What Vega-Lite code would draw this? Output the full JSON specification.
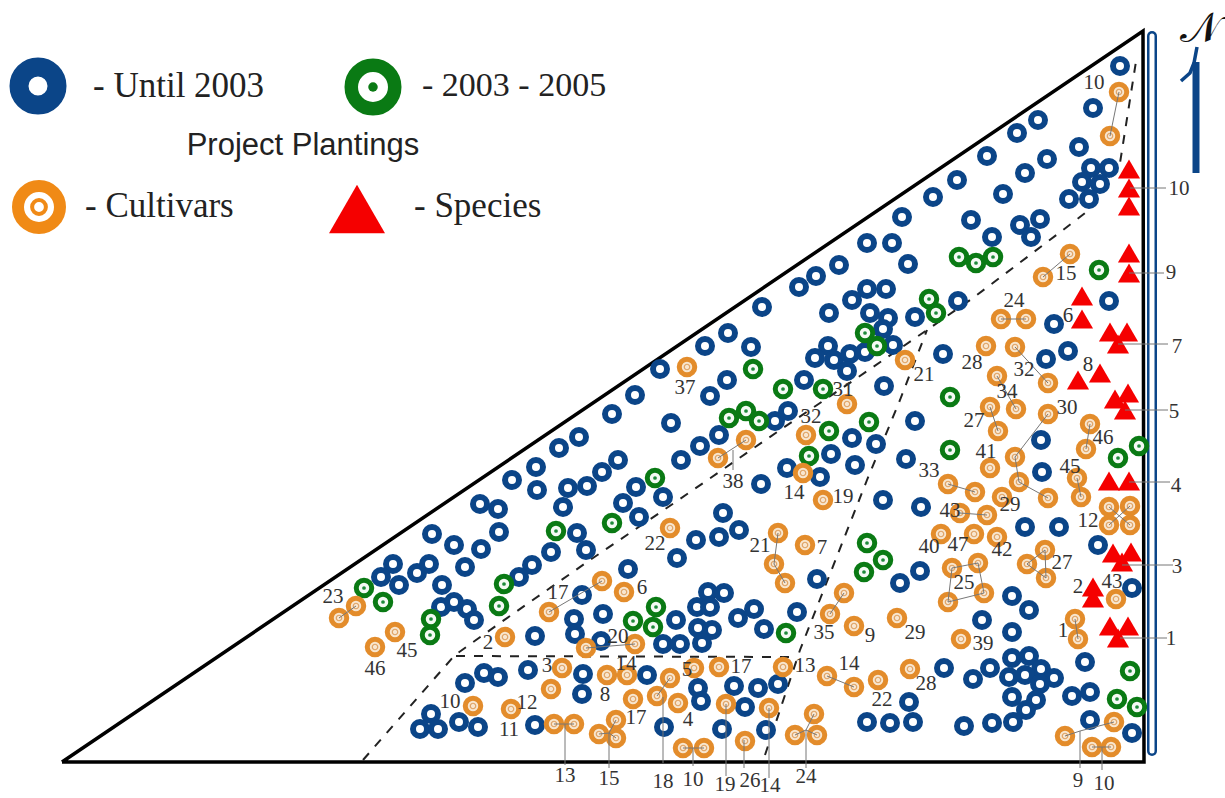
{"$schema":"https://vega.github.io/schema/vega-lite/v6.json","width":1225,"height":798,"autosize":"none","padding":0,"background":"white","view":{"stroke":null},
"datasets":{
"blue":[{"x":1120,"y":66},{"x":1093,"y":108},{"x":1038,"y":120},{"x":1017,"y":133},{"x":1079,"y":147},{"x":987,"y":156},{"x":1047,"y":159},{"x":1025,"y":173},{"x":1003,"y":194},{"x":1091,"y":168},{"x":1109,"y":168},{"x":1082,"y":182},{"x":1100,"y":184},{"x":1089,"y":199},{"x":1069,"y":199},{"x":1040,"y":219},{"x":1020,"y":225},{"x":1031,"y":237},{"x":971,"y":220},{"x":992,"y":237},{"x":957,"y":180},{"x":933,"y":197},{"x":902,"y":217},{"x":867,"y":243},{"x":892,"y":243},{"x":908,"y":264},{"x":839,"y":265},{"x":816,"y":276},{"x":799,"y":287},{"x":762,"y":307},{"x":867,"y":289},{"x":886,"y":289},{"x":852,"y":300},{"x":829,"y":313},{"x":870,"y":313},{"x":888,"y":318},{"x":883,"y":329},{"x":915,"y":317},{"x":958,"y":301},{"x":828,"y":346},{"x":815,"y":358},{"x":834,"y":360},{"x":850,"y":354},{"x":865,"y":352},{"x":893,"y":345},{"x":847,"y":371},{"x":804,"y":380},{"x":884,"y":386},{"x":943,"y":354},{"x":915,"y":421},{"x":852,"y":438},{"x":876,"y":444},{"x":831,"y":454},{"x":855,"y":465},{"x":906,"y":459},{"x":820,"y":477},{"x":1041,"y":440},{"x":1042,"y":472},{"x":1054,"y":324},{"x":1046,"y":359},{"x":1068,"y":351},{"x":1109,"y":301},{"x":728,"y":333},{"x":705,"y":346},{"x":751,"y":347},{"x":660,"y":369},{"x":727,"y":380},{"x":710,"y":396},{"x":635,"y":395},{"x":612,"y":414},{"x":671,"y":423},{"x":579,"y":437},{"x":559,"y":448},{"x":536,"y":467},{"x":512,"y":480},{"x":537,"y":490},{"x":618,"y":460},{"x":602,"y":472},{"x":587,"y":486},{"x":568,"y":488},{"x":636,"y":487},{"x":663,"y":497},{"x":623,"y":503},{"x":681,"y":460},{"x":700,"y":446},{"x":719,"y":435},{"x":775,"y":421},{"x":788,"y":411},{"x":787,"y":468},{"x":761,"y":484},{"x":639,"y":517},{"x":563,"y":507},{"x":480,"y":504},{"x":498,"y":509},{"x":499,"y":532},{"x":577,"y":533},{"x":586,"y":550},{"x":551,"y":552},{"x":532,"y":565},{"x":519,"y":577},{"x":432,"y":534},{"x":454,"y":545},{"x":481,"y":549},{"x":465,"y":567},{"x":393,"y":564},{"x":381,"y":577},{"x":399,"y":585},{"x":417,"y":573},{"x":429,"y":564},{"x":442,"y":585},{"x":441,"y":607},{"x":454,"y":602},{"x":467,"y":609},{"x":474,"y":620},{"x":723,"y":513},{"x":739,"y":530},{"x":719,"y":537},{"x":696,"y":540},{"x":677,"y":558},{"x":628,"y":569},{"x":582,"y":595},{"x":574,"y":619},{"x":575,"y":634},{"x":603,"y":614},{"x":535,"y":636},{"x":601,"y":641},{"x":676,"y":620},{"x":663,"y":644},{"x":680,"y":644},{"x":708,"y":592},{"x":724,"y":593},{"x":697,"y":607},{"x":710,"y":607},{"x":738,"y":618},{"x":754,"y":609},{"x":698,"y":628},{"x":712,"y":630},{"x":702,"y":643},{"x":528,"y":670},{"x":465,"y":683},{"x":484,"y":673},{"x":498,"y":677},{"x":583,"y":674},{"x":582,"y":694},{"x":647,"y":675},{"x":698,"y":688},{"x":701,"y":701},{"x":734,"y":686},{"x":745,"y":707},{"x":431,"y":714},{"x":420,"y":729},{"x":438,"y":729},{"x":459,"y":722},{"x":478,"y":727},{"x":535,"y":725},{"x":664,"y":727},{"x":722,"y":729},{"x":883,"y":500},{"x":921,"y":507},{"x":817,"y":579},{"x":900,"y":583},{"x":920,"y":571},{"x":797,"y":612},{"x":764,"y":629},{"x":1025,"y":527},{"x":1059,"y":527},{"x":1098,"y":545},{"x":1132,"y":588},{"x":1012,"y":596},{"x":1029,"y":610},{"x":982,"y":620},{"x":1012,"y":632},{"x":1085,"y":662},{"x":944,"y":668},{"x":973,"y":679},{"x":990,"y":668},{"x":1012,"y":658},{"x":1029,"y":656},{"x":1041,"y":669},{"x":1009,"y":677},{"x":1025,"y":675},{"x":1054,"y":678},{"x":1040,"y":684},{"x":1012,"y":697},{"x":1036,"y":700},{"x":1026,"y":710},{"x":1072,"y":696},{"x":1090,"y":692},{"x":909,"y":702},{"x":867,"y":722},{"x":890,"y":723},{"x":913,"y":722},{"x":964,"y":726},{"x":992,"y":723},{"x":1013,"y":722},{"x":1090,"y":720},{"x":1132,"y":733},{"x":758,"y":688},{"x":778,"y":684},{"x":766,"y":730}],
"green":[{"x":959,"y":257},{"x":976,"y":263},{"x":993,"y":257},{"x":929,"y":299},{"x":936,"y":313},{"x":865,"y":333},{"x":877,"y":346},{"x":823,"y":389},{"x":869,"y":422},{"x":829,"y":431},{"x":809,"y":456},{"x":950,"y":397},{"x":950,"y":450},{"x":1099,"y":270},{"x":1118,"y":458},{"x":1139,"y":446},{"x":753,"y":369},{"x":783,"y":389},{"x":729,"y":418},{"x":746,"y":411},{"x":759,"y":421},{"x":655,"y":478},{"x":612,"y":523},{"x":556,"y":531},{"x":504,"y":584},{"x":499,"y":606},{"x":364,"y":588},{"x":383,"y":602},{"x":431,"y":619},{"x":430,"y":635},{"x":656,"y":607},{"x":633,"y":621},{"x":653,"y":627},{"x":867,"y":543},{"x":883,"y":560},{"x":864,"y":572},{"x":786,"y":633},{"x":1130,"y":671},{"x":1117,"y":699},{"x":1137,"y":707}],
"orange":[{"x":1119,"y":92},{"x":1110,"y":136},{"x":1070,"y":254},{"x":1043,"y":277},{"x":1001,"y":319},{"x":1026,"y":319},{"x":986,"y":346},{"x":1015,"y":347},{"x":1048,"y":383},{"x":997,"y":376},{"x":990,"y":407},{"x":1016,"y":409},{"x":998,"y":431},{"x":1048,"y":414},{"x":1090,"y":424},{"x":1086,"y":449},{"x":1015,"y":457},{"x":990,"y":468},{"x":1019,"y":482},{"x":1077,"y":478},{"x":1081,"y":497},{"x":948,"y":484},{"x":975,"y":492},{"x":1002,"y":497},{"x":1048,"y":498},{"x":905,"y":360},{"x":847,"y":404},{"x":806,"y":435},{"x":803,"y":473},{"x":687,"y":367},{"x":746,"y":440},{"x":718,"y":458},{"x":823,"y":500},{"x":960,"y":513},{"x":987,"y":515},{"x":941,"y":534},{"x":974,"y":534},{"x":997,"y":537},{"x":1109,"y":507},{"x":1130,"y":506},{"x":1109,"y":525},{"x":1130,"y":525},{"x":778,"y":533},{"x":805,"y":545},{"x":774,"y":564},{"x":785,"y":583},{"x":952,"y":568},{"x":978,"y":563},{"x":948,"y":602},{"x":984,"y":593},{"x":1045,"y":550},{"x":1027,"y":564},{"x":1046,"y":578},{"x":844,"y":593},{"x":830,"y":614},{"x":854,"y":626},{"x":897,"y":618},{"x":961,"y":639},{"x":1116,"y":599},{"x":1075,"y":619},{"x":1078,"y":639},{"x":783,"y":667},{"x":827,"y":676},{"x":854,"y":687},{"x":878,"y":680},{"x":910,"y":669},{"x":769,"y":708},{"x":814,"y":714},{"x":795,"y":735},{"x":817,"y":735},{"x":745,"y":741},{"x":1065,"y":736},{"x":1114,"y":722},{"x":1092,"y":747},{"x":1111,"y":747},{"x":670,"y":528},{"x":602,"y":581},{"x":624,"y":592},{"x":549,"y":612},{"x":505,"y":637},{"x":586,"y":648},{"x":635,"y":644},{"x":356,"y":606},{"x":339,"y":618},{"x":395,"y":632},{"x":375,"y":647},{"x":562,"y":668},{"x":551,"y":689},{"x":607,"y":675},{"x":627,"y":675},{"x":670,"y":678},{"x":694,"y":668},{"x":719,"y":667},{"x":657,"y":696},{"x":678,"y":703},{"x":633,"y":699},{"x":726,"y":704},{"x":473,"y":706},{"x":511,"y":709},{"x":554,"y":724},{"x":574,"y":724},{"x":616,"y":720},{"x":599,"y":734},{"x":616,"y":738},{"x":683,"y":748},{"x":704,"y":748}],
"red":[{"x":1129,"y":169},{"x":1129,"y":188},{"x":1129,"y":206},{"x":1129,"y":253},{"x":1129,"y":273},{"x":1082,"y":296},{"x":1082,"y":319},{"x":1110,"y":332},{"x":1127,"y":332},{"x":1118,"y":344},{"x":1078,"y":380},{"x":1100,"y":373},{"x":1115,"y":399},{"x":1128,"y":393},{"x":1125,"y":410},{"x":1109,"y":481},{"x":1129,"y":481},{"x":1113,"y":553},{"x":1131,"y":552},{"x":1122,"y":562},{"x":1093,"y":587},{"x":1093,"y":598},{"x":1110,"y":626},{"x":1128,"y":626},{"x":1118,"y":638}],
"links":[{"x":1119,"y":92,"x2":1110,"y2":136},{"x":1130,"y":188,"x2":1166,"y2":188},{"x":1129,"y":273,"x2":1164,"y2":273},{"x":1118,"y":344,"x2":1168,"y2":344},{"x":1125,"y":410,"x2":1168,"y2":410},{"x":1129,"y":482,"x2":1170,"y2":482},{"x":1122,"y":565,"x2":1173,"y2":565},{"x":1120,"y":638,"x2":1167,"y2":638},{"x":1070,"y":254,"x2":1043,"y2":277},{"x":1001,"y":319,"x2":1026,"y2":319},{"x":1015,"y":347,"x2":1048,"y2":383},{"x":997,"y":376,"x2":1016,"y2":409},{"x":990,"y":407,"x2":998,"y2":431},{"x":1048,"y":414,"x2":1015,"y2":457},{"x":1015,"y":457,"x2":1019,"y2":482},{"x":1019,"y":482,"x2":1048,"y2":498},{"x":948,"y":484,"x2":975,"y2":492},{"x":1090,"y":424,"x2":1086,"y2":449},{"x":1077,"y":478,"x2":1081,"y2":497},{"x":960,"y":513,"x2":987,"y2":515},{"x":1109,"y":507,"x2":1130,"y2":525},{"x":1130,"y":506,"x2":1109,"y2":525},{"x":778,"y":533,"x2":774,"y2":564},{"x":774,"y":564,"x2":785,"y2":583},{"x":952,"y":568,"x2":978,"y2":563},{"x":978,"y":563,"x2":984,"y2":593},{"x":984,"y":593,"x2":948,"y2":602},{"x":948,"y":602,"x2":952,"y2":568},{"x":1045,"y":550,"x2":1027,"y2":564},{"x":1027,"y":564,"x2":1046,"y2":578},{"x":1045,"y":550,"x2":1046,"y2":578},{"x":844,"y":593,"x2":830,"y2":614},{"x":1075,"y":619,"x2":1078,"y2":639},{"x":827,"y":676,"x2":854,"y2":687},{"x":602,"y":581,"x2":549,"y2":612},{"x":586,"y":648,"x2":635,"y2":644},{"x":339,"y":618,"x2":356,"y2":606},{"x":670,"y":678,"x2":657,"y2":696},{"x":663,"y":697,"x2":663,"y2":763},{"x":554,"y":724,"x2":574,"y2":724},{"x":565,"y":724,"x2":565,"y2":765},{"x":599,"y":734,"x2":609,"y2":733},{"x":616,"y":720,"x2":609,"y2":733},{"x":616,"y":738,"x2":609,"y2":733},{"x":609,"y":733,"x2":609,"y2":768},{"x":683,"y":748,"x2":704,"y2":748},{"x":693,"y":748,"x2":693,"y2":766},{"x":726,"y":704,"x2":726,"y2":776},{"x":744,"y":740,"x2":744,"y2":768},{"x":769,"y":708,"x2":769,"y2":778},{"x":814,"y":714,"x2":806,"y2":730},{"x":795,"y":735,"x2":806,"y2":730},{"x":817,"y":735,"x2":806,"y2":730},{"x":806,"y":730,"x2":806,"y2":768},{"x":1065,"y":736,"x2":1080,"y2":731},{"x":1080,"y":731,"x2":1114,"y2":722},{"x":1080,"y":731,"x2":1080,"y2":768},{"x":1092,"y":747,"x2":1111,"y2":747},{"x":1102,"y":747,"x2":1102,"y2":770},{"x":718,"y":458,"x2":746,"y2":440},{"x":733,"y":450,"x2":733,"y2":470}],
"dash":[{"g":"a","i":1,"x":363,"y":760},{"g":"a","i":2,"x":455,"y":655},{"g":"a","i":3,"x":500,"y":623},{"g":"a","i":4,"x":590,"y":560},{"g":"a","i":5,"x":680,"y":499},{"g":"a","i":6,"x":780,"y":430},{"g":"a","i":7,"x":857,"y":378},{"g":"a","i":8,"x":927,"y":330},{"g":"a","i":9,"x":973,"y":298},{"g":"a","i":10,"x":1063,"y":230},{"g":"a","i":11,"x":1089,"y":210},{"g":"a","i":12,"x":1120,"y":163},{"g":"a","i":13,"x":1137,"y":55},{"g":"b","i":1,"x":456,"y":656},{"g":"b","i":2,"x":790,"y":657},{"g":"c","i":1,"x":765,"y":755},{"g":"c","i":2,"x":800,"y":650},{"g":"c","i":3,"x":867,"y":480},{"g":"c","i":4,"x":900,"y":400},{"g":"c","i":5,"x":927,"y":330}],
"labels":[{"x":1094,"y":83,"t":"10"},{"x":1179,"y":189,"t":"10"},{"x":1171,"y":273,"t":"9"},{"x":1177,"y":347,"t":"7"},{"x":1174,"y":412,"t":"5"},{"x":1176,"y":486,"t":"4"},{"x":1177,"y":567,"t":"3"},{"x":1171,"y":639,"t":"1"},{"x":1066,"y":274,"t":"15"},{"x":1014,"y":301,"t":"24"},{"x":1068,"y":316,"t":"6"},{"x":972,"y":363,"t":"28"},{"x":1024,"y":370,"t":"32"},{"x":1088,"y":365,"t":"8"},{"x":1007,"y":392,"t":"34"},{"x":974,"y":421,"t":"27"},{"x":1067,"y":408,"t":"30"},{"x":1103,"y":438,"t":"46"},{"x":986,"y":452,"t":"41"},{"x":1070,"y":467,"t":"45"},{"x":929,"y":471,"t":"33"},{"x":1010,"y":505,"t":"29"},{"x":950,"y":511,"t":"43"},{"x":1088,"y":521,"t":"12"},{"x":929,"y":547,"t":"40"},{"x":958,"y":545,"t":"47"},{"x":1002,"y":550,"t":"42"},{"x":1062,"y":563,"t":"27"},{"x":964,"y":583,"t":"25"},{"x":1112,"y":582,"t":"43"},{"x":1078,"y":587,"t":"2"},{"x":1063,"y":631,"t":"1"},{"x":983,"y":644,"t":"39"},{"x":915,"y":633,"t":"29"},{"x":870,"y":636,"t":"9"},{"x":824,"y":633,"t":"35"},{"x":760,"y":546,"t":"21"},{"x":822,"y":548,"t":"7"},{"x":655,"y":544,"t":"22"},{"x":794,"y":493,"t":"14"},{"x":843,"y":497,"t":"19"},{"x":733,"y":482,"t":"38"},{"x":843,"y":390,"t":"31"},{"x":811,"y":417,"t":"32"},{"x":924,"y":375,"t":"21"},{"x":685,"y":388,"t":"37"},{"x":558,"y":593,"t":"17"},{"x":642,"y":588,"t":"6"},{"x":488,"y":643,"t":"2"},{"x":618,"y":637,"t":"20"},{"x":626,"y":664,"t":"14"},{"x":547,"y":666,"t":"3"},{"x":687,"y":670,"t":"5"},{"x":741,"y":667,"t":"17"},{"x":805,"y":666,"t":"13"},{"x":849,"y":664,"t":"14"},{"x":926,"y":684,"t":"28"},{"x":882,"y":700,"t":"22"},{"x":605,"y":695,"t":"8"},{"x":527,"y":703,"t":"12"},{"x":450,"y":702,"t":"10"},{"x":509,"y":730,"t":"11"},{"x":636,"y":718,"t":"17"},{"x":688,"y":720,"t":"4"},{"x":407,"y":651,"t":"45"},{"x":375,"y":669,"t":"46"},{"x":333,"y":597,"t":"23"},{"x":565,"y":776,"t":"13"},{"x":609,"y":779,"t":"15"},{"x":663,"y":782,"t":"18"},{"x":693,"y":780,"t":"10"},{"x":725,"y":785,"t":"19"},{"x":750,"y":781,"t":"26"},{"x":770,"y":786,"t":"14"},{"x":806,"y":777,"t":"24"},{"x":1078,"y":781,"t":"9"},{"x":1104,"y":784,"t":"10"}]
},
"encoding":{"x":{"field":"x","type":"quantitative","scale":{"domain":[0,1225],"nice":false,"zero":false},"axis":null},"y":{"field":"y","type":"quantitative","scale":{"domain":[798,0],"nice":false,"zero":false},"axis":null}},
"layer":[
{"data":{"values":[{"x":1152,"y":36,"x2":1152,"y2":751}]},"mark":{"type":"rule","stroke":"#0b4588","strokeWidth":10,"strokeCap":"round"},"encoding":{"x2":{"field":"x2"},"y2":{"field":"y2"}}},
{"data":{"values":[{"x":1152,"y":36,"x2":1152,"y2":751}]},"mark":{"type":"rule","stroke":"white","strokeWidth":5,"strokeCap":"round"},"encoding":{"x2":{"field":"x2"},"y2":{"field":"y2"}}},
{"data":{"values":[{"i":1,"x":62,"y":762},{"i":2,"x":1143,"y":31},{"i":3,"x":1144,"y":762},{"i":4,"x":62,"y":762}]},"mark":{"type":"line","stroke":"black","strokeWidth":3.5,"strokeJoin":"miter","interpolate":"linear"},"encoding":{"order":{"field":"i"}}},
{"data":{"name":"dash"},"mark":{"type":"line","stroke":"#222","strokeWidth":2,"strokeDash":[9,9]},"encoding":{"order":{"field":"i"},"detail":{"field":"g"}}},
{"data":{"name":"blue"},"mark":{"type":"point","shape":"circle","filled":true,"fill":"white","stroke":"#0b4588","strokeWidth":6,"size":196,"opacity":1}},
{"data":{"name":"green"},"mark":{"type":"point","shape":"circle","filled":true,"fill":"#f4faf4","stroke":"#0a7a14","strokeWidth":5,"size":240,"opacity":1}},
{"data":{"name":"green"},"mark":{"type":"point","shape":"circle","filled":true,"fill":"#1d8a3a","size":14,"opacity":1,"strokeWidth":0}},
{"data":{"name":"orange"},"mark":{"type":"point","shape":"circle","filled":true,"fill":"#f8e6cf","stroke":"#e38c2b","strokeWidth":5,"size":240,"opacity":1}},
{"data":{"name":"orange"},"mark":{"type":"point","shape":"circle","filled":false,"stroke":"#dfa366","strokeWidth":1.2,"size":30,"opacity":1}},
{"data":{"name":"red"},"mark":{"type":"point","shape":"triangle-up","filled":true,"fill":"#f50000","size":490,"opacity":1,"strokeWidth":0}},
{"data":{"name":"links"},"mark":{"type":"rule","stroke":"#777","strokeWidth":1},"encoding":{"x2":{"field":"x2"},"y2":{"field":"y2"}}},
{"data":{"name":"labels"},"mark":{"type":"text","font":"Liberation Serif","fontSize":21,"fill":"#333","align":"center","baseline":"middle"},"encoding":{"text":{"field":"t"}}},
{"data":{"values":[{"x":38,"y":86}]},"mark":{"type":"point","shape":"circle","filled":true,"fill":"white","stroke":"#0b4588","strokeWidth":19,"size":1444,"opacity":1}},
{"data":{"values":[{"x":373,"y":87}]},"mark":{"type":"point","shape":"circle","filled":true,"fill":"white","stroke":"#0a7a14","strokeWidth":13.5,"size":1892,"opacity":1}},
{"data":{"values":[{"x":373,"y":87}]},"mark":{"type":"point","shape":"circle","filled":true,"fill":"#0a7a14","size":90,"opacity":1,"strokeWidth":0}},
{"data":{"values":[{"x":39,"y":207}]},"mark":{"type":"point","shape":"circle","filled":true,"fill":"white","stroke":"#f08a16","strokeWidth":12,"size":1764,"opacity":1}},
{"data":{"values":[{"x":39,"y":207}]},"mark":{"type":"point","shape":"circle","filled":false,"stroke":"#f08a16","strokeWidth":4,"size":190,"opacity":1}},
{"data":{"values":[{"x":357,"y":209}]},"mark":{"type":"point","shape":"triangle-up","filled":true,"fill":"#f50000","size":3136,"opacity":1,"strokeWidth":0}},
{"data":{"values":[{"x":93,"y":86,"t":"- Until 2003"},{"x":85,"y":206,"t":"- Cultivars"},{"x":414,"y":206,"t":"- Species"}]},"mark":{"type":"text","font":"Liberation Serif","fontSize":35,"fill":"#222","align":"left","baseline":"middle"},"encoding":{"text":{"field":"t"}}},
{"data":{"values":[{"x":422,"y":86,"t":"- 2003 - 2005"}]},"mark":{"type":"text","font":"Liberation Serif","fontSize":34,"fill":"#222","align":"left","baseline":"middle"},"encoding":{"text":{"field":"t"}}},
{"data":{"values":[{"x":303,"y":146,"t":"Project Plantings"}]},"mark":{"type":"text","font":"Liberation Sans","fontSize":31,"fill":"#222","align":"center","baseline":"middle"},"encoding":{"text":{"field":"t"}}},
{"data":{"values":[{"x":1200,"y":29,"t":"𝒩"}]},"mark":{"type":"text","font":"DejaVu Serif","fontSize":42,"fill":"#111","align":"center","baseline":"middle"},"encoding":{"text":{"field":"t"}}},
{"data":{"values":[{"x":1196,"y":62,"x2":1196,"y2":173}]},"mark":{"type":"rule","stroke":"#0b4588","strokeWidth":7},"encoding":{"x2":{"field":"x2"},"y2":{"field":"y2"}}},
{"data":{"values":[{"i":1,"x":1181,"y":81},{"i":2,"x":1190,"y":73},{"i":3,"x":1194,"y":63},{"i":4,"x":1197,"y":47}]},"mark":{"type":"line","stroke":"#0b4588","strokeWidth":3.5},"encoding":{"order":{"field":"i"}}}
]}
